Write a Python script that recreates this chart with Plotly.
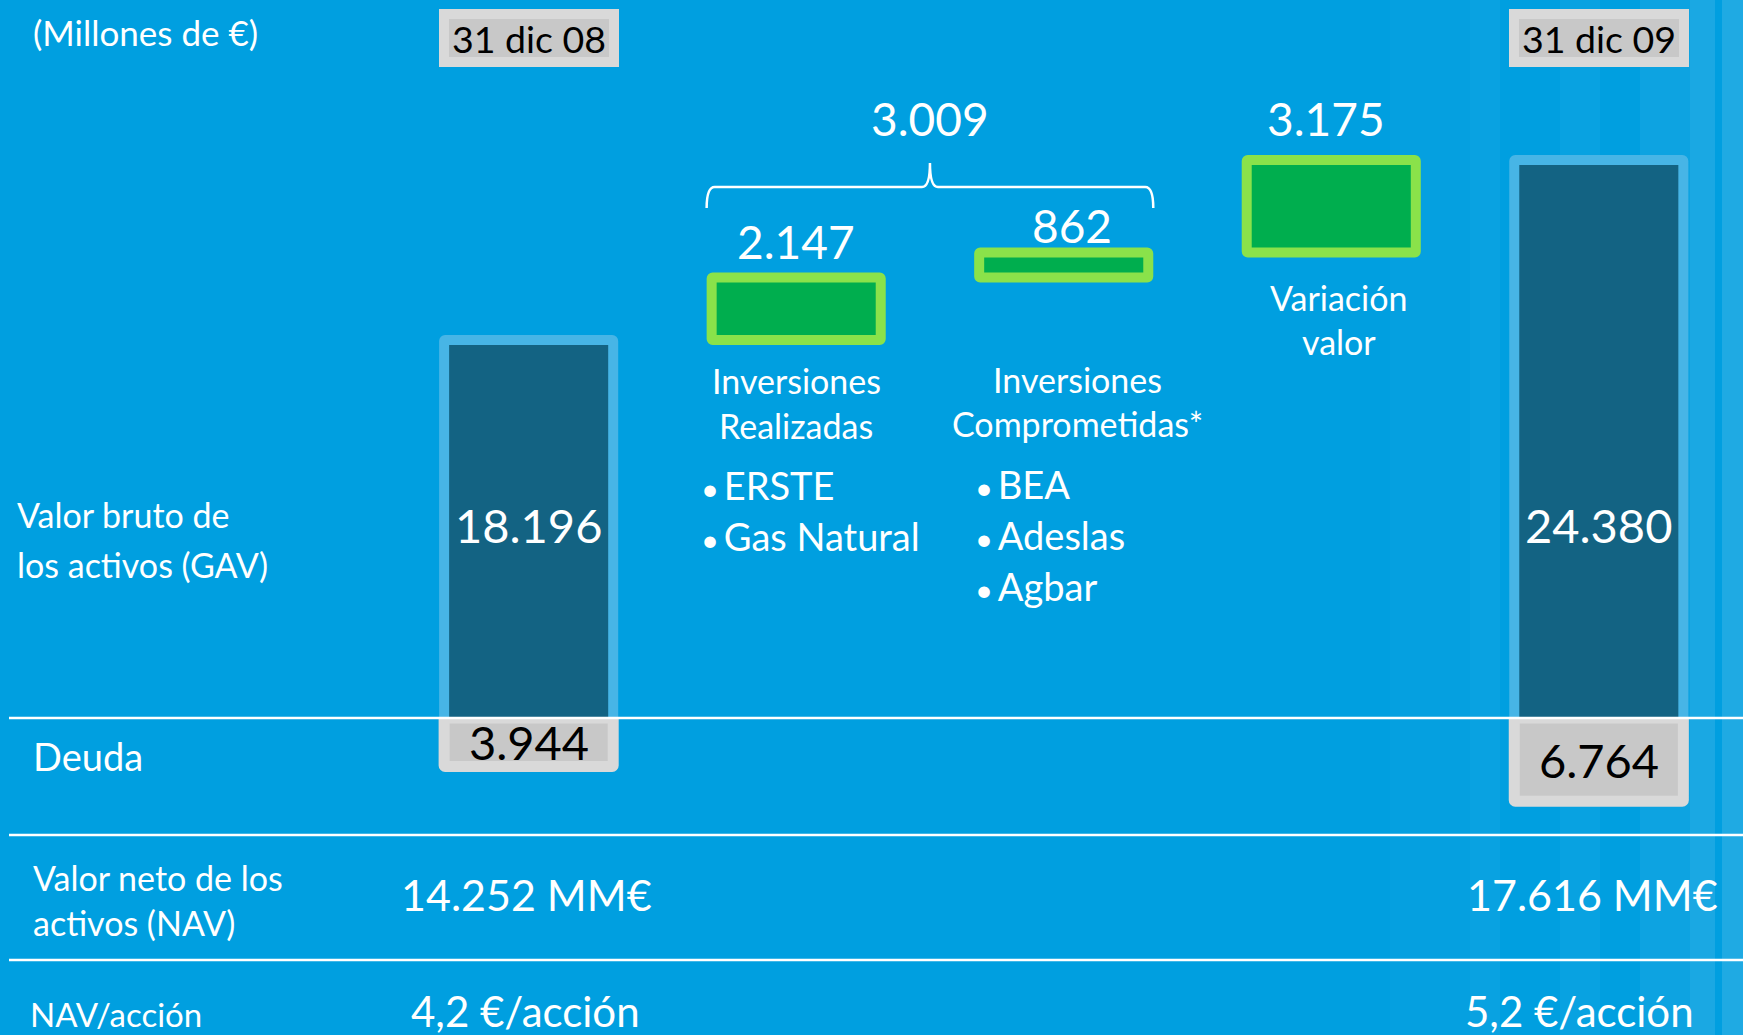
import plotly.graph_objects as go

# ---- data (millones de euros) ----
categories = ["31 dic 08", "Inversiones Realizadas", "Inversiones Comprometidas",
              "Variación valor", "31 dic 09"]
gav_dates = ["31 dic 08", "31 dic 09"]
gav_values = [18196, 24380]                 # valor bruto de los activos (GAV)
movement_cats = ["Inversiones Realizadas", "Inversiones Comprometidas", "Variación valor"]
movement_values = [2147, 862, 3175]          # pasos del puente GAV 2008 -> 2009
debt_values = [3944, 6764]                   # deuda
nav_per_share = [4.2, 5.2]                   # €/acción
realized_items = ["ERSTE", "Gas Natural"]
committed_items = ["BEA", "Adeslas", "Agbar"]


def fmt_int(v):
    return f"{v:,}".replace(",", ".")


def fmt_dec(v):
    return f"{v:.1f}".replace(".", ",")


# waterfall bases for the green steps
bases = []
acc = gav_values[0]
for v in movement_values:
    bases.append(acc)
    acc += v
nav_values = [g - d for g, d in zip(gav_values, debt_values)]
investments_total = movement_values[0] + movement_values[1]

# ---- page geometry ----
W, H = 1743, 1035
X_LO, X_HI = -1.976, 4.539
BAR_W = 0.632
FONT = "Lato, 'Open Sans', sans-serif"
BG = "#009FE0"
WHITE = "#FFFFFF"
BULLET = "<span style='font-size:31px'>•</span>\u2009"


def py(p):
    return 1 - p / H


def pxp(p):
    return p / W


def xi(i):
    return (i - X_LO) / (X_HI - X_LO)


fig = go.Figure()

# GAV columns
fig.add_trace(go.Bar(
    x=gav_dates, y=gav_values, width=BAR_W,
    marker=dict(color="#136383", line=dict(color="#47B5E6", width=10), cornerradius=1),
    xaxis="x", yaxis="y", hoverinfo="skip", showlegend=False,
))
# green bridge steps
fig.add_trace(go.Bar(
    x=movement_cats, y=movement_values, base=bases, width=BAR_W,
    marker=dict(color="#00AE4E", line=dict(color="#8AE24A", width=10), cornerradius=1),
    xaxis="x", yaxis="y", hoverinfo="skip", showlegend=False,
))
# debt boxes hanging below the separator
fig.add_trace(go.Bar(
    x=gav_dates, y=debt_values, width=BAR_W,
    marker=dict(color="#C8C8C8", line=dict(color="#D9D9D9", width=11), cornerradius=1),
    xaxis="x2", yaxis="y2", hoverinfo="skip", showlegend=False,
))

ann = []


def text(t, x, y, size, color=WHITE, xref="paper", yref="paper", xanchor="center", **kw):
    ann.append(dict(text=t, x=x, y=y, xref=xref, yref=yref, xanchor=xanchor,
                    yanchor="middle", showarrow=False,
                    font=dict(family=FONT, size=size, color=color), **kw))


# headers
text("(Millones de €)", pxp(31), py(32), 35, xanchor="left")
for i, d in zip([0, 4], gav_dates):
    text(d, i, py(38), 37.5, color="#000000", xref="x",
         bgcolor="#C8C8C8", bordercolor="#D9D9D9", borderwidth=10, borderpad=0,
         width=160, height=38)

# GAV values inside the columns
for i, v in zip([0, 4], gav_values):
    text(fmt_int(v), i, py(525), 47, xref="x")

# debt values centred in their boxes
for i, v in zip([0, 4], debt_values):
    text(fmt_int(v), i, v / 2, 47, color="#000000", xref="x", yref="y2")

# step values
text(fmt_int(investments_total), 1.5, py(118), 46, xref="x")
text(fmt_int(movement_values[0]), 1, py(241), 46, xref="x")
text(fmt_int(movement_values[1]), 2.03, py(226), 46, xref="x")
text(fmt_int(movement_values[2]), 2.98, py(118), 46, xref="x")

# step captions
text("Inversiones", 1, py(381), 34, xref="x")
text("Realizadas", 1, py(426), 34, xref="x")
text("Inversiones", 2.05, py(379), 34, xref="x")
text("Comprometidas*", 2.05, py(424), 34, xref="x")
text("Variación", 3.03, py(297), 34, xref="x")
text("valor", 3.03, py(341), 34, xref="x")

for k, item in enumerate(realized_items):
    text(BULLET + item, pxp(699), py(485 + 51 * k), 38, xanchor="left")
for k, item in enumerate(committed_items):
    text(BULLET + item, pxp(973), py(484 + 51 * k), 38, xanchor="left")

# row labels
text("Valor bruto de", pxp(15), py(514), 34, xanchor="left")
text("los activos (GAV)", pxp(15), py(564), 34, xanchor="left")
text("Deuda", pxp(31), py(756), 38, xanchor="left")
text("Valor neto de los", pxp(31), py(877), 34, xanchor="left")
text("activos (NAV)", pxp(31), py(922), 34, xanchor="left")
text("NAV/acción", pxp(28), py(1014), 33, xanchor="left")

# NAV rows
text(fmt_int(nav_values[0]) + " MM€", pxp(526), py(894), 43)
text(fmt_int(nav_values[1]) + " MM€", pxp(1592), py(894), 43)
text(fmt_dec(nav_per_share[0]) + " €/acción", pxp(525), py(1011), 42)
text(fmt_dec(nav_per_share[1]) + " €/acción", pxp(1579), py(1011), 42)

shapes = []
# faint vertical streaks on the right of the slide background
for x0, x1, a in [(1390, 1470, 0.02), (1470, 1500, 0.035), (1560, 1600, 0.03),
                  (1640, 1690, 0.05), (1690, 1715, 0.10), (1722, 1743, 0.12)]:
    shapes.append(dict(type="rect", xref="paper", yref="paper", x0=pxp(x0), x1=pxp(x1),
                       y0=0, y1=1, fillcolor=f"rgba(255,255,255,{a})", line=dict(width=0),
                       layer="below"))

# row separators
for yy in [718, 835, 960]:
    shapes.append(dict(type="line", xref="paper", yref="paper", x0=pxp(9), x1=1,
                       y0=py(yy), y1=py(yy), line=dict(color=WHITE, width=2.5), layer="above"))

# curly brace grouping the two investment steps
half = BAR_W / 2 + 5 / (W / (X_HI - X_LO))
bx0, bx1, bxm = xi(1 - half), xi(2 + half), xi(1.5)
r = 8 / W
yt, yh, ye = py(163), py(187), py(208)
brace = (f"M {bx0},{ye} Q {bx0},{yh} {bx0 + r},{yh} L {bxm - r},{yh} "
         f"Q {bxm},{yh} {bxm},{yt} Q {bxm},{yh} {bxm + r},{yh} "
         f"L {bx1 - r},{yh} Q {bx1},{yh} {bx1},{ye}")
shapes.append(dict(type="path", xref="paper", yref="paper", path=brace,
                   line=dict(color=WHITE, width=2.5)))

axis_common = dict(visible=False, fixedrange=True)
fig.update_layout(
    width=W, height=H,
    margin=dict(l=0, r=0, t=0, b=0),
    paper_bgcolor=BG, plot_bgcolor="rgba(0,0,0,0)",
    barmode="overlay",
    xaxis=dict(domain=[0, 1], type="category", categoryorder="array",
               categoryarray=categories, range=[X_LO, X_HI], anchor="y", **axis_common),
    yaxis=dict(domain=[py(718), 1], range=[5210, 29877], anchor="x", **axis_common),
    xaxis2=dict(domain=[0, 1], type="category", categoryorder="array",
                categoryarray=categories, range=[X_LO, X_HI], anchor="y2", **axis_common),
    yaxis2=dict(domain=[py(835), py(718)], range=[9512, 0], anchor="x2", **axis_common),
    annotations=ann,
    shapes=shapes,
    font=dict(family=FONT, color=WHITE),
)

fig.write_html("out.html")
